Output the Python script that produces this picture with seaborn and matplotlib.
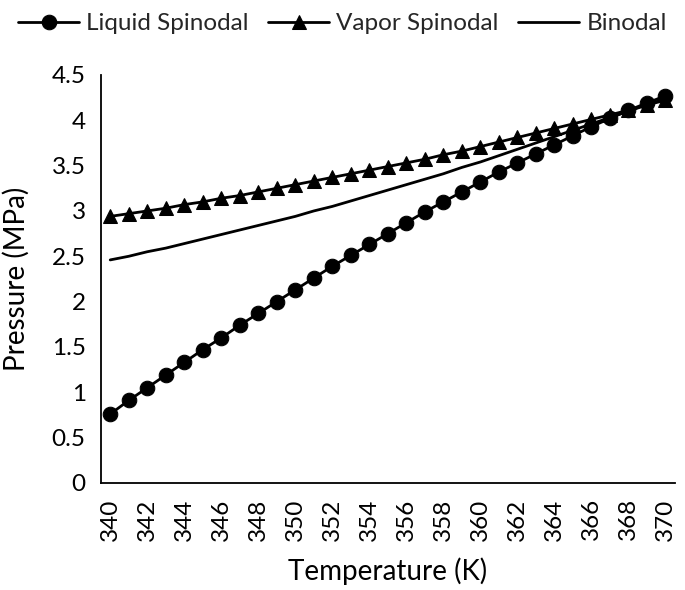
import numpy as np
import pandas as pd
import matplotlib
matplotlib.use("Agg")
import matplotlib.pyplot as plt
import seaborn as sns
from matplotlib.ticker import FuncFormatter, FixedLocator

temperature = list(range(340, 371))
liquid_spinodal = [0.76, 0.91, 1.05, 1.19, 1.33, 1.47, 1.60, 1.74, 1.87, 2.00,
                   2.13, 2.26, 2.39, 2.51, 2.63, 2.75, 2.87, 2.99, 3.10, 3.21,
                   3.32, 3.43, 3.53, 3.63, 3.73, 3.83, 3.93, 4.02, 4.11, 4.19, 4.27]
vapor_spinodal = [2.94, 2.97, 3.00, 3.03, 3.07, 3.10, 3.14, 3.17, 3.21, 3.25,
                  3.29, 3.33, 3.37, 3.41, 3.45, 3.49, 3.53, 3.57, 3.62, 3.66,
                  3.71, 3.76, 3.81, 3.86, 3.91, 3.96, 4.01, 4.06, 4.11, 4.17, 4.22]
binodal = [2.46, 2.50, 2.55, 2.59, 2.64, 2.69, 2.74, 2.79, 2.84, 2.89,
           2.94, 3.00, 3.05, 3.11, 3.17, 3.23, 3.29, 3.35, 3.41, 3.48,
           3.54, 3.61, 3.68, 3.75, 3.82, 3.89, 3.96, 4.03, 4.10, 4.17, 4.24]
x_ticks = list(range(340, 371, 2))
y_ticks = [0, 0.5, 1, 1.5, 2, 2.5, 3, 3.5, 4, 4.5]

sns.set_theme(style="white")
plt.rcParams['font.family'] = ['Lato', 'DejaVu Sans']

fig = plt.figure(figsize=(6.85, 5.9), dpi=100)
ax = fig.add_axes([0.1474, 0.1814, 0.8376, 0.6916])

lw = 2.0
sns.lineplot(x=temperature, y=liquid_spinodal, ax=ax, color="black", linewidth=lw,
             marker="o", markersize=10.5, markeredgecolor="black", label="Liquid Spinodal")
sns.lineplot(x=temperature, y=vapor_spinodal, ax=ax, color="black", linewidth=lw,
             marker="^", markersize=10.5, markeredgecolor="black", label="Vapor Spinodal")
sns.lineplot(x=temperature, y=binodal, ax=ax, color="black", linewidth=lw,
             label="Binodal")

ax.set_xlim(339.5, 370.5)
ax.set_ylim(0, 4.5)
ax.xaxis.set_major_locator(FixedLocator(x_ticks))
ax.yaxis.set_major_locator(FixedLocator(y_ticks))
ax.yaxis.set_major_formatter(FuncFormatter(lambda v, p: f"{v:g}"))
ax.tick_params(axis="x", labelrotation=90, length=0, pad=11, labelsize=17.5, colors="black")
ax.tick_params(axis="y", length=0, pad=11, labelsize=17.5, colors="black")
ax.set_xlabel("Temperature (K)", fontsize=20, color="black", labelpad=12)
ax.set_ylabel("Pressure (MPa)", fontsize=20, color="black")
ax.yaxis.set_label_coords(-0.125, 0.5)

for s in ["top", "right"]:
    ax.spines[s].set_visible(False)
for s in ["left", "bottom"]:
    ax.spines[s].set_color("black")
    ax.spines[s].set_linewidth(1.3)

ax.get_legend().remove()
handles, labels = ax.get_legend_handles_labels()
fig.legend(handles, labels, loc="upper center", bbox_to_anchor=(0.5, 1.015), ncol=3,
           frameon=False, fontsize=17.5, handlelength=2.5, columnspacing=0.8,
           handletextpad=0.3)

fig.savefig("out.png", dpi=100)
